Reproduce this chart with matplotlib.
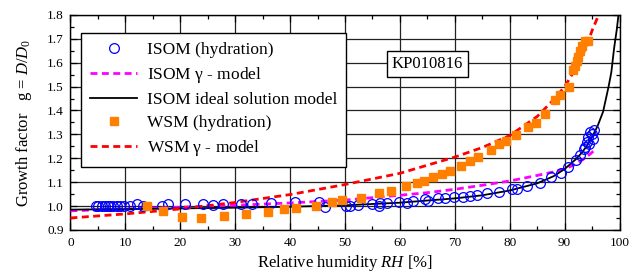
import numpy as np
import matplotlib
matplotlib.use('Agg')
import matplotlib.pyplot as plt
from matplotlib.ticker import MultipleLocator

plt.rcParams['font.family'] = ['Liberation Serif', 'DejaVu Serif']
plt.rcParams['mathtext.fontset'] = 'custom'
plt.rcParams['mathtext.rm'] = 'Liberation Serif'
plt.rcParams['mathtext.it'] = 'Liberation Serif:italic'

# ISOM (hydration) measured points
isom_rh = [4.7, 5.1, 5.7, 6.3, 6.8, 7.2, 7.8, 8.4, 9.0, 9.8, 10.8, 12.2, 13.2,
           16.6, 17.8, 20.9, 24.2, 25.9, 27.8, 31.0, 33.0, 36.5, 40.9, 45.3,
           46.4, 50.2, 50.9, 52.4, 54.9, 56.1, 56.4, 57.7, 59.9, 61.3, 62.4,
           64.6, 65.2, 66.9, 68.3, 69.9, 71.4, 72.8, 74.0, 75.8, 78.1, 80.5,
           81.3, 83.1, 85.5, 87.5, 89.3, 90.7, 92.1, 92.8, 93.5, 93.7, 94.0,
           94.3, 94.5, 94.7, 95.0, 95.1, 95.3]
isom_g = [1.0, 1.0, 1.0, 1.0, 1.0, 1.0, 1.0, 1.0, 1.0, 1.0, 1.0, 1.008, 1.001,
          1.002, 1.008, 1.009, 1.008, 1.006, 1.009, 1.009, 1.009, 1.014, 1.017,
          1.018, 0.998, 1.002, 1.000, 1.005, 1.009, 1.002, 1.012, 1.014, 1.017,
          1.012, 1.023, 1.030, 1.021, 1.033, 1.033, 1.038, 1.039, 1.044, 1.046,
          1.053, 1.060, 1.072, 1.072, 1.084, 1.098, 1.120, 1.137, 1.165, 1.193,
          1.214, 1.240, 1.249, 1.270, 1.290, 1.260, 1.310, 1.300, 1.280, 1.320]

# WSM (hydration) measured points
wsm_rh = [13.9, 16.8, 20.3, 23.7, 28.0, 32.0, 35.9, 38.9, 41.1, 44.8, 47.6,
          49.4, 52.9, 56.2, 58.4, 61.1, 63.2, 64.4, 66.1, 67.7, 69.1, 71.1,
          72.8, 74.3, 76.5, 78.1, 79.3, 81.1, 83.4, 84.8, 86.5, 88.3, 89.2,
          90.8, 91.5, 91.9, 92.3, 92.5, 92.8, 93.1, 93.7, 94.3]
wsm_g = [0.999, 0.980, 0.956, 0.950, 0.957, 0.967, 0.977, 0.988, 0.992, 1.002,
         1.017, 1.025, 1.033, 1.053, 1.065, 1.085, 1.098, 1.105, 1.120, 1.134,
         1.147, 1.168, 1.189, 1.204, 1.235, 1.260, 1.272, 1.297, 1.332, 1.349,
         1.386, 1.444, 1.465, 1.500, 1.570, 1.585, 1.606, 1.626, 1.648, 1.668,
         1.693, 1.693]

# model curves
isom_gamma_rh = [0, 10, 20, 30, 40, 50, 60, 65, 70, 75, 80, 85, 88, 90, 92, 94, 95.5]
isom_gamma_g = [0.980, 0.988, 0.995, 1.003, 1.013, 1.025, 1.045, 1.056, 1.070,
                1.087, 1.105, 1.128, 1.143, 1.155, 1.175, 1.205, 1.235]

isom_ideal_rh = [0, 10, 20, 30, 40, 50, 60, 70, 75, 80, 85, 88, 90, 92, 93, 94,
                 95, 96, 97, 98, 98.5, 99, 99.5, 99.8]
isom_ideal_g = [0.985, 0.987, 0.990, 0.993, 0.997, 1.003, 1.014, 1.032, 1.045,
                1.065, 1.095, 1.125, 1.155, 1.195, 1.220, 1.250, 1.290, 1.335,
                1.395, 1.500, 1.560, 1.660, 1.740, 1.800]

wsm_gamma_rh = [0, 10, 20, 30, 40, 50, 60, 70, 75, 80, 85, 88, 90, 92, 94, 95, 96, 96.3]
wsm_gamma_g = [0.950, 0.967, 0.988, 1.015, 1.048, 1.090, 1.137, 1.205, 1.245,
               1.295, 1.375, 1.445, 1.500, 1.575, 1.670, 1.735, 1.790, 1.810]

fig = plt.figure(figsize=(6.29, 2.77), dpi=100)
ax = fig.add_axes([0.112, 0.170, 0.873, 0.776])

ax.plot(isom_rh, isom_g, 'o', ms=7, mfc='none', mec='#0000ff', mew=0.9,
        label='ISOM (hydration)', zorder=4)
ax.plot(isom_gamma_rh, isom_gamma_g, '--', color='#ff00ff', lw=2,
        dashes=(2.5, 1.6), label=r'ISOM $\mathrm{\gamma}$ - model', zorder=3)
ax.plot(isom_ideal_rh, isom_ideal_g, '-', color='black', lw=1.3,
        label='ISOM ideal solution model', zorder=3)
ax.plot(wsm_rh, wsm_g, 's', ms=5.5, color='#ff8000', mec='#ff8000',
        label='WSM (hydration)', zorder=4)
ax.plot(wsm_gamma_rh, wsm_gamma_g, '--', color='#ff0000', lw=2,
        dashes=(2.5, 1.6), label=r'WSM $\mathrm{\gamma}$ - model', zorder=3)

ax.set_xlim(0, 100)
ax.set_ylim(0.9, 1.8)
ax.xaxis.set_major_locator(MultipleLocator(10))
ax.xaxis.set_minor_locator(MultipleLocator(5))
ax.yaxis.set_major_locator(MultipleLocator(0.1))
ax.yaxis.set_minor_locator(MultipleLocator(0.05))
ax.yaxis.set_major_formatter(plt.FormatStrFormatter('%.1f'))
ax.grid(True, which='major', color='#222222', lw=0.9)
ax.tick_params(which='both', direction='in', top=True, right=True,
               labelsize=9.5, width=0.9)
ax.tick_params(which='major', length=5, pad=5)
ax.tick_params(which='minor', length=3)
for s in ax.spines.values():
    s.set_linewidth(1.0)

ax.set_xlabel(r'Relative humidity $RH$ [%]', fontsize=12, labelpad=3)
ax.set_ylabel(r'Growth factor   g = $D/D_0$', fontsize=12, labelpad=9)

leg = ax.legend(loc='upper left', bbox_to_anchor=(0.02, 0.915), fontsize=12.5,
                frameon=True, fancybox=False, framealpha=1, edgecolor='black',
                handlelength=2.7, labelspacing=0.4, borderpad=0.5,
                handletextpad=0.6, borderaxespad=0)
leg.get_frame().set_linewidth(1.0)
leg.set_zorder(10)

ax.text(65, 1.595, 'KP010816', fontsize=12, ha='center', va='center',
        bbox=dict(boxstyle='square,pad=0.3', fc='white', ec='black', lw=1.0),
        zorder=11)

fig.savefig('out.png', dpi=100)
